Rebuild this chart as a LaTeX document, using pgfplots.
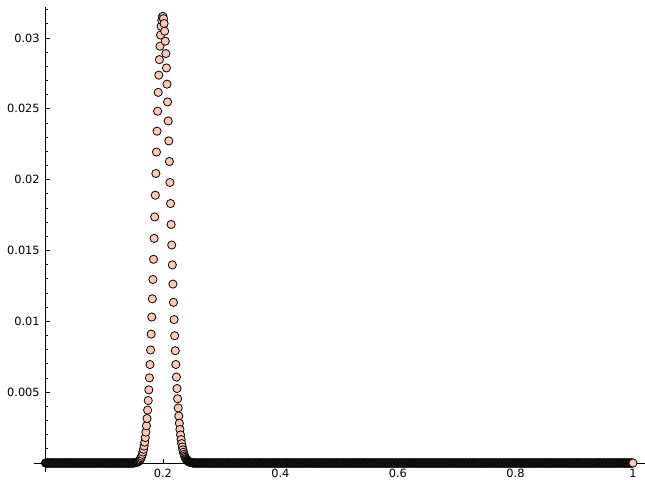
\documentclass[border=0pt]{standalone}
\usepackage{fontspec}
\setmainfont{DejaVu Sans}
\usepackage{pgfplots}
\pgfplotsset{compat=1.18}
\definecolor{peach}{RGB}{255,200,180}
\pgfplotsset{pts/.style={only marks, mark=*, mark size=4.1bp, line width=0.8bp, mark options={fill=peach, draw=black, line width=0.8bp}}}
\begin{document}
\begin{tikzpicture}
\begin{axis}[
  scale only axis, width=611bp, height=464.5bp,
  xmin=-0.02, xmax=1.02, ymin=-0.00063, ymax=0.03216,
  axis lines=middle, axis line style={-, line width=0.8bp, black},
  clip=false,
  scaled ticks=false,
  tick align=inside,
  xlabel={}, ylabel={},
  xtick={0.2,0.4,0.6,0.8,1}, xticklabels={0.2,0.4,0.6,0.8,1},
  ytick={0.005,0.01,0.015,0.02,0.025,0.03}, yticklabels={0.005,0.01,0.015,0.02,0.025,0.03},
  minor ytick={0.001,0.002,0.003,0.004,0.006,0.007,0.008,0.009,0.011,0.012,0.013,0.014,0.016,0.017,0.018,0.019,0.021,0.022,0.023,0.024,0.026,0.027,0.028,0.029,0.031,0.032},
  major tick length=4.5bp, minor tick length=2.5bp,
  every tick/.style={black, line width=0.8bp},
  ticklabel style={font=\fontsize{11.4}{13}\selectfont},
  xticklabel style={anchor=north, inner sep=0pt, yshift=-6bp},
  yticklabel style={anchor=east, inner sep=0pt, xshift=-5.5bp},
  /pgf/number format/assume math mode=true,
]
\addplot[pts] coordinates {
(0.000,0)(0.001,0)(0.002,0)(0.003,0)(0.004,0)(0.005,0)(0.006,0)(0.007,0)(0.008,0)(0.009,0)
(0.010,0)(0.011,0)(0.012,0)(0.013,0)(0.014,0)(0.015,0)(0.016,0)(0.017,0)(0.018,0)(0.019,0)
(0.020,0)(0.021,0)(0.022,0)(0.023,0)(0.024,0)(0.025,0)(0.026,0)(0.027,0)(0.028,0)(0.029,0)
(0.030,0)(0.031,0)(0.032,0)(0.033,0)(0.034,0)(0.035,0)(0.036,0)(0.037,0)(0.038,0)(0.039,0)
(0.040,0)(0.041,0)(0.042,0)(0.043,0)(0.044,0)(0.045,0)(0.046,0)(0.047,0)(0.048,0)(0.049,0)
(0.050,0)(0.051,0)(0.052,0)(0.053,0)(0.054,0)(0.055,0)(0.056,0)(0.057,0)(0.058,0)(0.059,0)
(0.060,0)(0.061,0)(0.062,0)(0.063,0)(0.064,0)(0.065,0)(0.066,0)(0.067,0)(0.068,0)(0.069,0)
(0.070,0)(0.071,0)(0.072,0)(0.073,0)(0.074,0)(0.075,0)(0.076,0)(0.077,0)(0.078,0)(0.079,0)
(0.080,0)(0.081,0)(0.082,0)(0.083,0)(0.084,0)(0.085,0)(0.086,0)(0.087,0)(0.088,0)(0.089,0)
(0.090,0)(0.091,0)(0.092,0)(0.093,0)(0.094,0)(0.095,0)(0.096,0)(0.097,0)(0.098,0)(0.099,0)
(0.100,0)(0.101,0)(0.102,0)(0.103,0)(0.104,0)(0.105,0)(0.106,0)(0.107,0)(0.108,0)(0.109,0)
(0.110,0)(0.111,0)(0.112,0)(0.113,0)(0.114,0)(0.115,0)(0.116,0)(0.117,0)(0.118,0)(0.119,0)
(0.120,0)(0.121,0)(0.122,0)(0.123,0)(0.124,0)(0.125,0)(0.126,0)(0.127,0)(0.128,0)(0.129,0)
(0.130,0)(0.131,0)(0.132,0)(0.133,0)(0.134,0)(0.135,0)(0.136,0)(0.137,0)(0.138,0)(0.139,0)
(0.140,0)(0.141,0)(0.142,0)(0.143,0)(0.144,0)(0.145,0)(0.146,0)(0.147,0)(0.148,0)(0.149,0)
};
\addplot[pts] coordinates {
(0.150,0.0000081)(0.151,0.0000114)(0.152,0.0000159)(0.153,0.0000221)(0.154,0.0000305)
(0.155,0.0000415)(0.156,0.0000561)(0.157,0.0000754)(0.158,0.0001006)(0.159,0.0001332)
(0.160,0.0001750)(0.161,0.0002283)(0.162,0.0002956)(0.163,0.0003799)(0.164,0.0004847)
(0.165,0.0006140)(0.166,0.0007721)(0.167,0.0009640)(0.168,0.0011949)(0.169,0.0014707)
(0.170,0.0017972)(0.171,0.0021808)(0.172,0.0026280)(0.173,0.0031443)(0.174,0.0037361)
(0.175,0.0044086)(0.176,0.0051663)(0.177,0.0060127)(0.178,0.0069500)(0.179,0.0079790)
(0.180,0.0090983)(0.181,0.010305)(0.182,0.011592)(0.183,0.012955)(0.184,0.014380)
(0.185,0.015857)(0.186,0.017370)(0.187,0.018903)(0.188,0.020436)(0.189,0.021950)
(0.190,0.023423)(0.191,0.024833)(0.192,0.026159)(0.193,0.027379)(0.194,0.028472)
(0.195,0.029421)(0.196,0.030209)(0.197,0.030823)(0.198,0.031251)(0.199,0.031486)
(0.200,0.031525)(0.201,0.031368)(0.202,0.031019)(0.203,0.030484)(0.204,0.029774)
(0.205,0.028903)(0.206,0.027886)(0.207,0.026740)(0.208,0.025487)(0.209,0.024145)
(0.210,0.022737)(0.211,0.021282)(0.212,0.019801)(0.213,0.018314)(0.214,0.016838)
(0.215,0.015389)(0.216,0.013982)(0.217,0.012629)(0.218,0.011340)(0.219,0.010123)
(0.220,0.0089840)(0.221,0.0079271)(0.222,0.0069540)(0.223,0.0060653)(0.224,0.0052597)
(0.225,0.0045350)(0.226,0.0038878)(0.227,0.0033141)(0.228,0.0028090)(0.229,0.0023674)
(0.230,0.0019840)(0.231,0.0016533)(0.232,0.0013700)(0.233,0.0011289)(0.234,0.0009251)
(0.235,0.0007539)(0.236,0.0006109)(0.237,0.0004923)(0.238,0.0003946)(0.239,0.0003145)
(0.240,0.0002493)(0.241,0.0001966)(0.242,0.0001541)(0.243,0.0001202)(0.244,0.0000932)
(0.245,0.0000719)(0.246,0.0000552)(0.247,0.0000421)(0.248,0.0000320)(0.249,0.0000241)
(0.250,0.0000181)
};
\addplot[pts] coordinates {
(0.251,0)(0.252,0)(0.253,0)(0.254,0)(0.255,0)(0.256,0)(0.257,0)(0.258,0)(0.259,0)
(0.260,0)(0.261,0)(0.262,0)(0.263,0)(0.264,0)(0.265,0)(0.266,0)(0.267,0)(0.268,0)(0.269,0)
(0.270,0)(0.271,0)(0.272,0)(0.273,0)(0.274,0)(0.275,0)(0.276,0)(0.277,0)(0.278,0)(0.279,0)
(0.280,0)(0.281,0)(0.282,0)(0.283,0)(0.284,0)(0.285,0)(0.286,0)(0.287,0)(0.288,0)(0.289,0)
(0.290,0)(0.291,0)(0.292,0)(0.293,0)(0.294,0)(0.295,0)(0.296,0)(0.297,0)(0.298,0)(0.299,0)
(0.300,0)(0.301,0)(0.302,0)(0.303,0)(0.304,0)(0.305,0)(0.306,0)(0.307,0)(0.308,0)(0.309,0)
(0.310,0)(0.311,0)(0.312,0)(0.313,0)(0.314,0)(0.315,0)(0.316,0)(0.317,0)(0.318,0)(0.319,0)
(0.320,0)(0.321,0)(0.322,0)(0.323,0)(0.324,0)(0.325,0)(0.326,0)(0.327,0)(0.328,0)(0.329,0)
(0.330,0)(0.331,0)(0.332,0)(0.333,0)(0.334,0)(0.335,0)(0.336,0)(0.337,0)(0.338,0)(0.339,0)
(0.340,0)(0.341,0)(0.342,0)(0.343,0)(0.344,0)(0.345,0)(0.346,0)(0.347,0)(0.348,0)(0.349,0)
(0.350,0)(0.351,0)(0.352,0)(0.353,0)(0.354,0)(0.355,0)(0.356,0)(0.357,0)(0.358,0)(0.359,0)
(0.360,0)(0.361,0)(0.362,0)(0.363,0)(0.364,0)(0.365,0)(0.366,0)(0.367,0)(0.368,0)(0.369,0)
(0.370,0)(0.371,0)(0.372,0)(0.373,0)(0.374,0)(0.375,0)(0.376,0)(0.377,0)(0.378,0)(0.379,0)
(0.380,0)(0.381,0)(0.382,0)(0.383,0)(0.384,0)(0.385,0)(0.386,0)(0.387,0)(0.388,0)(0.389,0)
(0.390,0)(0.391,0)(0.392,0)(0.393,0)(0.394,0)(0.395,0)(0.396,0)(0.397,0)(0.398,0)(0.399,0)
(0.400,0)(0.401,0)(0.402,0)(0.403,0)(0.404,0)(0.405,0)(0.406,0)(0.407,0)(0.408,0)(0.409,0)
(0.410,0)(0.411,0)(0.412,0)(0.413,0)(0.414,0)(0.415,0)(0.416,0)(0.417,0)(0.418,0)(0.419,0)
(0.420,0)(0.421,0)(0.422,0)(0.423,0)(0.424,0)(0.425,0)(0.426,0)(0.427,0)(0.428,0)(0.429,0)
(0.430,0)(0.431,0)(0.432,0)(0.433,0)(0.434,0)(0.435,0)(0.436,0)(0.437,0)(0.438,0)(0.439,0)
(0.440,0)(0.441,0)(0.442,0)(0.443,0)(0.444,0)(0.445,0)(0.446,0)(0.447,0)(0.448,0)(0.449,0)
(0.450,0)(0.451,0)(0.452,0)(0.453,0)(0.454,0)(0.455,0)(0.456,0)(0.457,0)(0.458,0)(0.459,0)
(0.460,0)(0.461,0)(0.462,0)(0.463,0)(0.464,0)(0.465,0)(0.466,0)(0.467,0)(0.468,0)(0.469,0)
(0.470,0)(0.471,0)(0.472,0)(0.473,0)(0.474,0)(0.475,0)(0.476,0)(0.477,0)(0.478,0)(0.479,0)
(0.480,0)(0.481,0)(0.482,0)(0.483,0)(0.484,0)(0.485,0)(0.486,0)(0.487,0)(0.488,0)(0.489,0)
(0.490,0)(0.491,0)(0.492,0)(0.493,0)(0.494,0)(0.495,0)(0.496,0)(0.497,0)(0.498,0)(0.499,0)
(0.500,0)(0.501,0)(0.502,0)(0.503,0)(0.504,0)(0.505,0)(0.506,0)(0.507,0)(0.508,0)(0.509,0)
(0.510,0)(0.511,0)(0.512,0)(0.513,0)(0.514,0)(0.515,0)(0.516,0)(0.517,0)(0.518,0)(0.519,0)
(0.520,0)(0.521,0)(0.522,0)(0.523,0)(0.524,0)(0.525,0)(0.526,0)(0.527,0)(0.528,0)(0.529,0)
(0.530,0)(0.531,0)(0.532,0)(0.533,0)(0.534,0)(0.535,0)(0.536,0)(0.537,0)(0.538,0)(0.539,0)
(0.540,0)(0.541,0)(0.542,0)(0.543,0)(0.544,0)(0.545,0)(0.546,0)(0.547,0)(0.548,0)(0.549,0)
(0.550,0)(0.551,0)(0.552,0)(0.553,0)(0.554,0)(0.555,0)(0.556,0)(0.557,0)(0.558,0)(0.559,0)
(0.560,0)(0.561,0)(0.562,0)(0.563,0)(0.564,0)(0.565,0)(0.566,0)(0.567,0)(0.568,0)(0.569,0)
(0.570,0)(0.571,0)(0.572,0)(0.573,0)(0.574,0)(0.575,0)(0.576,0)(0.577,0)(0.578,0)(0.579,0)
(0.580,0)(0.581,0)(0.582,0)(0.583,0)(0.584,0)(0.585,0)(0.586,0)(0.587,0)(0.588,0)(0.589,0)
(0.590,0)(0.591,0)(0.592,0)(0.593,0)(0.594,0)(0.595,0)(0.596,0)(0.597,0)(0.598,0)(0.599,0)
(0.600,0)(0.601,0)(0.602,0)(0.603,0)(0.604,0)(0.605,0)(0.606,0)(0.607,0)(0.608,0)(0.609,0)
(0.610,0)(0.611,0)(0.612,0)(0.613,0)(0.614,0)(0.615,0)(0.616,0)(0.617,0)(0.618,0)(0.619,0)
(0.620,0)(0.621,0)(0.622,0)(0.623,0)(0.624,0)(0.625,0)(0.626,0)(0.627,0)(0.628,0)(0.629,0)
(0.630,0)(0.631,0)(0.632,0)(0.633,0)(0.634,0)(0.635,0)(0.636,0)(0.637,0)(0.638,0)(0.639,0)
(0.640,0)(0.641,0)(0.642,0)(0.643,0)(0.644,0)(0.645,0)(0.646,0)(0.647,0)(0.648,0)(0.649,0)
(0.650,0)(0.651,0)(0.652,0)(0.653,0)(0.654,0)(0.655,0)(0.656,0)(0.657,0)(0.658,0)(0.659,0)
(0.660,0)(0.661,0)(0.662,0)(0.663,0)(0.664,0)(0.665,0)(0.666,0)(0.667,0)(0.668,0)(0.669,0)
(0.670,0)(0.671,0)(0.672,0)(0.673,0)(0.674,0)(0.675,0)(0.676,0)(0.677,0)(0.678,0)(0.679,0)
(0.680,0)(0.681,0)(0.682,0)(0.683,0)(0.684,0)(0.685,0)(0.686,0)(0.687,0)(0.688,0)(0.689,0)
(0.690,0)(0.691,0)(0.692,0)(0.693,0)(0.694,0)(0.695,0)(0.696,0)(0.697,0)(0.698,0)(0.699,0)
(0.700,0)(0.701,0)(0.702,0)(0.703,0)(0.704,0)(0.705,0)(0.706,0)(0.707,0)(0.708,0)(0.709,0)
(0.710,0)(0.711,0)(0.712,0)(0.713,0)(0.714,0)(0.715,0)(0.716,0)(0.717,0)(0.718,0)(0.719,0)
(0.720,0)(0.721,0)(0.722,0)(0.723,0)(0.724,0)(0.725,0)(0.726,0)(0.727,0)(0.728,0)(0.729,0)
(0.730,0)(0.731,0)(0.732,0)(0.733,0)(0.734,0)(0.735,0)(0.736,0)(0.737,0)(0.738,0)(0.739,0)
(0.740,0)(0.741,0)(0.742,0)(0.743,0)(0.744,0)(0.745,0)(0.746,0)(0.747,0)(0.748,0)(0.749,0)
(0.750,0)(0.751,0)(0.752,0)(0.753,0)(0.754,0)(0.755,0)(0.756,0)(0.757,0)(0.758,0)(0.759,0)
(0.760,0)(0.761,0)(0.762,0)(0.763,0)(0.764,0)(0.765,0)(0.766,0)(0.767,0)(0.768,0)(0.769,0)
(0.770,0)(0.771,0)(0.772,0)(0.773,0)(0.774,0)(0.775,0)(0.776,0)(0.777,0)(0.778,0)(0.779,0)
(0.780,0)(0.781,0)(0.782,0)(0.783,0)(0.784,0)(0.785,0)(0.786,0)(0.787,0)(0.788,0)(0.789,0)
(0.790,0)(0.791,0)(0.792,0)(0.793,0)(0.794,0)(0.795,0)(0.796,0)(0.797,0)(0.798,0)(0.799,0)
(0.800,0)(0.801,0)(0.802,0)(0.803,0)(0.804,0)(0.805,0)(0.806,0)(0.807,0)(0.808,0)(0.809,0)
(0.810,0)(0.811,0)(0.812,0)(0.813,0)(0.814,0)(0.815,0)(0.816,0)(0.817,0)(0.818,0)(0.819,0)
(0.820,0)(0.821,0)(0.822,0)(0.823,0)(0.824,0)(0.825,0)(0.826,0)(0.827,0)(0.828,0)(0.829,0)
(0.830,0)(0.831,0)(0.832,0)(0.833,0)(0.834,0)(0.835,0)(0.836,0)(0.837,0)(0.838,0)(0.839,0)
(0.840,0)(0.841,0)(0.842,0)(0.843,0)(0.844,0)(0.845,0)(0.846,0)(0.847,0)(0.848,0)(0.849,0)
(0.850,0)(0.851,0)(0.852,0)(0.853,0)(0.854,0)(0.855,0)(0.856,0)(0.857,0)(0.858,0)(0.859,0)
(0.860,0)(0.861,0)(0.862,0)(0.863,0)(0.864,0)(0.865,0)(0.866,0)(0.867,0)(0.868,0)(0.869,0)
(0.870,0)(0.871,0)(0.872,0)(0.873,0)(0.874,0)(0.875,0)(0.876,0)(0.877,0)(0.878,0)(0.879,0)
(0.880,0)(0.881,0)(0.882,0)(0.883,0)(0.884,0)(0.885,0)(0.886,0)(0.887,0)(0.888,0)(0.889,0)
(0.890,0)(0.891,0)(0.892,0)(0.893,0)(0.894,0)(0.895,0)(0.896,0)(0.897,0)(0.898,0)(0.899,0)
(0.900,0)(0.901,0)(0.902,0)(0.903,0)(0.904,0)(0.905,0)(0.906,0)(0.907,0)(0.908,0)(0.909,0)
(0.910,0)(0.911,0)(0.912,0)(0.913,0)(0.914,0)(0.915,0)(0.916,0)(0.917,0)(0.918,0)(0.919,0)
(0.920,0)(0.921,0)(0.922,0)(0.923,0)(0.924,0)(0.925,0)(0.926,0)(0.927,0)(0.928,0)(0.929,0)
(0.930,0)(0.931,0)(0.932,0)(0.933,0)(0.934,0)(0.935,0)(0.936,0)(0.937,0)(0.938,0)(0.939,0)
(0.940,0)(0.941,0)(0.942,0)(0.943,0)(0.944,0)(0.945,0)(0.946,0)(0.947,0)(0.948,0)(0.949,0)
(0.950,0)(0.951,0)(0.952,0)(0.953,0)(0.954,0)(0.955,0)(0.956,0)(0.957,0)(0.958,0)(0.959,0)
(0.960,0)(0.961,0)(0.962,0)(0.963,0)(0.964,0)(0.965,0)(0.966,0)(0.967,0)(0.968,0)(0.969,0)
(0.970,0)(0.971,0)(0.972,0)(0.973,0)(0.974,0)(0.975,0)(0.976,0)(0.977,0)(0.978,0)(0.979,0)
(0.980,0)(0.981,0)(0.982,0)(0.983,0)(0.984,0)(0.985,0)(0.986,0)(0.987,0)(0.988,0)(0.989,0)
(0.990,0)(0.991,0)(0.992,0)(0.993,0)(0.994,0)(0.995,0)(0.996,0)(0.997,0)(0.998,0)(0.999,0)
(1.000,0)
};
\coordinate (bl) at (axis cs:-0.02,-0.00063);
\coordinate (tr) at (axis cs:1.02,0.03216);
\end{axis}
\pgfresetboundingbox
\path[use as bounding box] ([xshift=-33.65bp,yshift=-8bp]bl) rectangle ([xshift=0.3bp,yshift=7.4bp]tr);
\end{tikzpicture}
\end{document}
